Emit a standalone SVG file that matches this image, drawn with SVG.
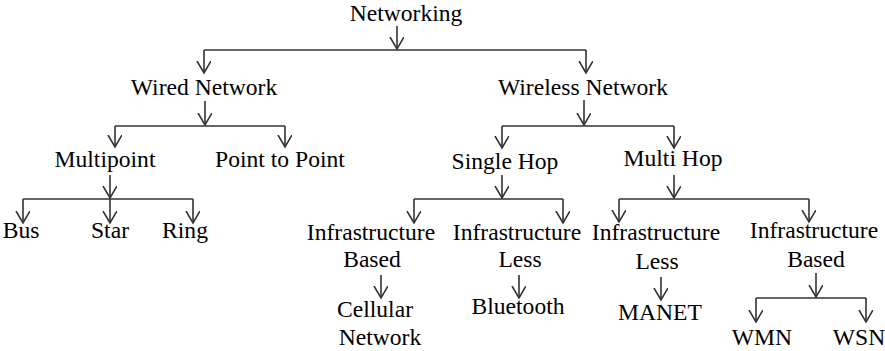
<svg xmlns="http://www.w3.org/2000/svg" width="885" height="351" viewBox="0 0 885 351">
  <style>
    .ln { stroke: #333; stroke-width: 1.6; fill: none; }
    .ar { stroke: #333; stroke-width: 1.6; fill: none; marker-end: url(#v); }
  </style>
  <defs>
    <!-- open V arrowhead -->
    <marker id="v" markerUnits="userSpaceOnUse" markerWidth="16" markerHeight="16" refX="12" refY="7" orient="auto">
      <path d="M0,0 L12,7 L0,14" fill="none" stroke="#333" stroke-width="1.6"/>
    </marker>
  </defs>

  <rect width="885" height="351" fill="#fff"/>

  <g id="connectors">
    <!-- Networking -->
    <path class="ar" d="M397,26 V49"/>
    <path class="ln" d="M204,50 H586"/>
    <path class="ar" d="M204,50 V73"/>
    <path class="ar" d="M586,50 V73"/>
    <!-- Wired Network -->
    <path class="ar" d="M205,101 V125"/>
    <path class="ln" d="M115,126 H285"/>
    <path class="ar" d="M115,126 V147"/>
    <path class="ar" d="M285,126 V147"/>
    <!-- Wireless Network -->
    <path class="ar" d="M584,100 V125"/>
    <path class="ln" d="M502,126 H674"/>
    <path class="ar" d="M502,126 V148"/>
    <path class="ar" d="M674,126 V148"/>
    <!-- Multipoint -->
    <path class="ar" d="M110,175 V198"/>
    <path class="ln" d="M23,199 H193"/>
    <path class="ar" d="M23,199 V223"/>
    <path class="ar" d="M110,199 V223"/>
    <path class="ar" d="M193,199 V223"/>
    <!-- Single Hop -->
    <path class="ar" d="M502,175 V198"/>
    <path class="ln" d="M414,199 H563"/>
    <path class="ar" d="M414,199 V223"/>
    <path class="ar" d="M563,199 V223"/>
    <!-- Multi Hop -->
    <path class="ar" d="M674,175 V198"/>
    <path class="ln" d="M619,199 H809"/>
    <path class="ar" d="M619,199 V222"/>
    <path class="ar" d="M809,199 V222"/>
    <!-- leaves -->
    <path class="ar" d="M381,275 V298"/>
    <path class="ar" d="M519,275 V298"/>
    <path class="ar" d="M661,277 V300"/>
    <!-- Infrastructure Based (multi hop) -->
    <path class="ar" d="M816,273 V297"/>
    <path class="ln" d="M756,298 H866"/>
    <path class="ar" d="M756,298 V322"/>
    <path class="ar" d="M866,298 V322"/>
  </g>

  <g font-family="Liberation Serif, serif" font-size="23.6" fill="#000" text-anchor="middle">
    <g id="networking"><text x="406" y="21">Networking</text></g>
    <g id="wired"><text x="204" y="95">Wired Network</text></g>
    <g id="wireless"><text x="583" y="95">Wireless Network</text></g>
    <g id="multipoint"><text x="105" y="167">Multipoint</text></g>
    <g id="point-to-point"><text x="280" y="167">Point to Point</text></g>
    <g id="bus"><text x="21" y="238">Bus</text></g>
    <g id="star"><text x="110" y="238">Star</text></g>
    <g id="ring"><text x="185" y="238">Ring</text></g>
    <g id="single-hop"><text x="505" y="169">Single Hop</text></g>
    <g id="multi-hop"><text x="673" y="166">Multi Hop</text></g>
    <g id="sh-infra-based"><text x="371" y="240">Infrastructure</text><text x="372" y="267">Based</text></g>
    <g id="sh-infra-less"><text x="517" y="240">Infrastructure</text><text x="520" y="267">Less</text></g>
    <g id="mh-infra-less"><text x="656" y="240">Infrastructure</text><text x="657" y="269">Less</text></g>
    <g id="mh-infra-based"><text x="814" y="238">Infrastructure</text><text x="816" y="267">Based</text></g>
    <g id="cellular"><text x="375" y="317">Cellular</text><text x="380" y="345">Network</text></g>
    <g id="bluetooth"><text x="518" y="314">Bluetooth</text></g>
    <g id="manet"><text x="660" y="320">MANET</text></g>
    <g id="wmn"><text x="762" y="345">WMN</text></g>
    <g id="wsn"><text x="859" y="345">WSN</text></g>
  </g>
</svg>
